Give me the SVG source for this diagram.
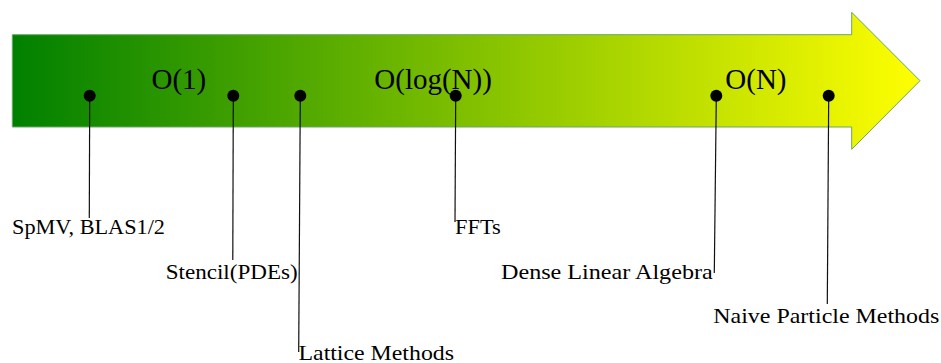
<svg xmlns="http://www.w3.org/2000/svg" width="941" height="363" viewBox="0 0 941 363">
<defs>
<linearGradient id="g" x1="12" y1="0" x2="920" y2="0" gradientUnits="userSpaceOnUse">
<stop offset="0" stop-color="#008000"/>
<stop offset="1" stop-color="#ffff00"/>
</linearGradient>
<style>
.big{font-family:"Liberation Serif","DejaVu Serif",serif;font-size:29px;fill:#000}
.lbl{font-family:"Liberation Serif","DejaVu Serif",serif;font-size:22px;fill:#000}
.dot{fill:#000}
.ln{stroke:#111;stroke-width:1.2;fill:none}
</style>
</defs>
<g id="arrow">
<path d="M12.3,34.7 L851.7,34.7 L851.7,12.3 L920,80.7 L851.7,149.3 L851.7,127 L12.3,127 Z" fill="url(#g)" stroke="#6aa56a" stroke-width="1"/>
</g>
<g id="scale">
<text class="big" x="151.5" y="89">O(1)</text>
<text class="big" x="374.3" y="88.5">O(log(N))</text>
<text class="big" x="725.3" y="89">O(N)</text>
</g>
<g id="connectors">
<line class="ln" x1="89.7" y1="95.7" x2="89.3" y2="218"/>
<line class="ln" x1="233.3" y1="95.7" x2="232.8" y2="260"/>
<line class="ln" x1="300.3" y1="95.7" x2="298.7" y2="352"/>
<line class="ln" x1="455.7" y1="95.7" x2="455" y2="222"/>
<line class="ln" x1="716.3" y1="95.7" x2="714.3" y2="273"/>
<line class="ln" x1="828.7" y1="95.7" x2="827.3" y2="304"/>
</g>
<g id="n-spmv"><circle class="dot" cx="89.7" cy="95.7" r="6"/><text class="lbl" x="12" y="234" textLength="153" lengthAdjust="spacingAndGlyphs">SpMV, BLAS1/2</text></g>
<g id="n-stencil"><circle class="dot" cx="233.3" cy="95.7" r="6"/><text class="lbl" x="165.7" y="279" textLength="132" lengthAdjust="spacingAndGlyphs">Stencil(PDEs)</text></g>
<g id="n-lattice"><circle class="dot" cx="300.3" cy="95.7" r="6"/><text class="lbl" x="298.5" y="360" textLength="155.5" lengthAdjust="spacingAndGlyphs">Lattice Methods</text></g>
<g id="n-ffts"><circle class="dot" cx="455.7" cy="95.7" r="6"/><text class="lbl" x="455" y="234" textLength="45.7" lengthAdjust="spacingAndGlyphs">FFTs</text></g>
<g id="n-dense"><circle class="dot" cx="716.3" cy="95.7" r="6"/><text class="lbl" x="501" y="279" textLength="211.7" lengthAdjust="spacingAndGlyphs">Dense Linear Algebra</text></g>
<g id="n-naive"><circle class="dot" cx="828.7" cy="95.7" r="6"/><text class="lbl" x="713.3" y="322.7" textLength="226" lengthAdjust="spacingAndGlyphs">Naive Particle Methods</text></g>
</svg>
